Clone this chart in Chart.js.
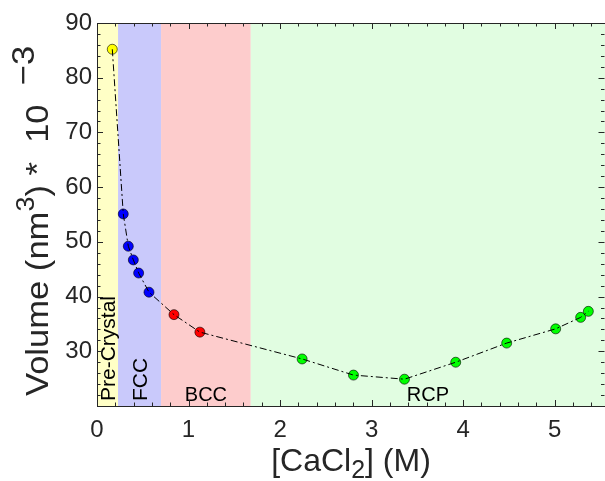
<!DOCTYPE html>
<html><head><meta charset="utf-8">
<script src="https://cdn.jsdelivr.net/npm/chart.js@4"></script>
<style>html,body{margin:0;padding:0;background:#fff;overflow:hidden}#wrap{width:605px;height:481px}</style>
</head><body><div id="wrap"><canvas id="c" width="605" height="481"></canvas></div>
<script>
// ---- data ----
const concentrations = [0.167, 0.287, 0.342, 0.397, 0.455, 0.568, 0.841, 1.124, 2.241, 2.802, 3.359, 3.919, 4.476, 5.011, 5.284, 5.368];
const volumes        = [85.2, 55.1, 49.2, 46.7, 44.3, 40.8, 36.7, 33.5, 28.6, 25.65, 24.9, 28.0, 31.5, 34.1, 36.2, 37.3];
const pointPhase     = [0, 1, 1, 1, 1, 1, 2, 2, 3, 3, 3, 3, 3, 3, 3, 3];
const phaseNames     = ['Pre-Crystal', 'FCC', 'BCC', 'RCP'];
const phaseBounds    = [0, 0.23, 0.70, 1.68, 5.55];
const xTickValues    = [0, 1, 2, 3, 4, 5];
const yTickValues    = [30, 40, 50, 60, 70, 80, 90];
const xRange = [0, 5.55];
const yRange = [20, 90];
const xMinorStep = 0.2;
const yMinorStep = 2;
const yTitleParts = [['Volume (nm', 0], ['3', 1], [') *  10 ', 0], [' \u22123', 2]];
const xTitleParts = [['[CaCl', 0], ['2', -1], ['] (M)', 0]];

// ---- styles ----
const phaseFill   = ['#ffffc6', '#c9c9fb', '#fdcccc', '#e1fde1'];
const phaseMarker = ['#ffff00', '#0000ff', '#ff0000', '#00ff00'];
const phaseVertical = [true, true, false, false];
const FONT = '"Liberation Sans", Arial, Helvetica, sans-serif';
const TXT = '#262626';
const VSTRETCH = 1.08;

const markerSets = phaseNames.map((name, p) => ({
  label: name,
  data: concentrations.map((x, i) => ({x, y: volumes[i]})).filter((_, i) => pointPhase[i] === p),
  showLine: false,
  pointRadius: 5,
  pointBackgroundColor: phaseMarker[p],
  pointBorderColor: '#000',
  pointBorderWidth: 0.6,
  order: 1
}));
const lineSet = {
  label: 'line',
  data: concentrations.map((x, i) => ({x, y: volumes[i]})),
  showLine: true,
  borderColor: '#000',
  borderWidth: 1,
  borderDash: [7, 3, 2, 3],
  pointRadius: 0,
  fill: false,
  tension: 0,
  order: 0
};

function partSize(k, size) { return k === 0 ? size : (k === 2 ? size : size * 0.78); }
function drawRich(ctx, parts, size, align) {
  let w = 0;
  parts.forEach(([t, k]) => { ctx.font = partSize(k, size) + 'px ' + FONT; w += ctx.measureText(t).width; });
  let x = align === 'start' ? 0 : -w / 2;
  ctx.textAlign = 'left';
  ctx.textBaseline = 'alphabetic';
  parts.forEach(([t, k]) => {
    ctx.font = partSize(k, size) + 'px ' + FONT;
    const dy = (k === 1 || k === 2) ? -size * 0.45 : (k === -1 ? size * 0.22 : 0);
    ctx.fillText(t, x, dy);
    x += ctx.measureText(t).width;
  });
}

const decor = {
  id: 'decor',
  beforeDatasetsDraw(chart) {
    const {ctx, chartArea: a, scales: {x, y}} = chart;
    ctx.save();
    for (let p = 0; p < phaseNames.length; p++) {
      const x0 = x.getPixelForValue(phaseBounds[p]);
      const x1 = x.getPixelForValue(phaseBounds[p + 1]);
      ctx.fillStyle = phaseFill[p];
      ctx.fillRect(x0, a.top, x1 - x0, a.bottom - a.top);
    }
    ctx.fillStyle = '#000';
    ctx.font = '20px ' + FONT;
    for (let p = 0; p < phaseNames.length; p++) {
      const x0 = x.getPixelForValue(phaseBounds[p]);
      const x1 = x.getPixelForValue(Math.min(phaseBounds[p + 1], xRange[1]));
      const cx = (x0 + x1) / 2;
      if (phaseVertical[p]) {
        ctx.save();
        ctx.translate(cx + 7.2, a.bottom - 5);
        ctx.rotate(-Math.PI / 2);
        ctx.scale(1.05, 1);
        ctx.textAlign = 'left';
        ctx.textBaseline = 'alphabetic';
        ctx.fillText(phaseNames[p], 0, 0);
        ctx.restore();
      } else {
        ctx.textAlign = 'center';
        ctx.textBaseline = 'alphabetic';
        ctx.fillText(phaseNames[p], cx, a.bottom - 5);
      }
    }
    ctx.restore();
  },
  afterDraw(chart) {
    const {ctx, chartArea: a, scales: {x, y}} = chart;
    ctx.save();
    ctx.strokeStyle = TXT;
    ctx.lineWidth = 1;
    const major = 6, minor = 3.5;
    ctx.beginPath();
    for (let v = xRange[0]; v <= xRange[1] + 1e-9; v += xMinorStep) {
      const px = Math.round(x.getPixelForValue(v)) + 0.5;
      const isMajor = Math.abs(v - Math.round(v)) < 1e-6;
      const L = isMajor ? major : minor;
      ctx.moveTo(px, a.bottom); ctx.lineTo(px, a.bottom - L);
      ctx.moveTo(px, a.top); ctx.lineTo(px, a.top + L);
    }
    for (let v = yRange[0]; v <= yRange[1] + 1e-9; v += yMinorStep) {
      const py = Math.round(y.getPixelForValue(v)) + 0.5;
      const isMajor = Math.abs(v / 10 - Math.round(v / 10)) < 1e-6;
      const L = isMajor ? major : minor;
      ctx.moveTo(a.left, py); ctx.lineTo(a.left + L, py);
      ctx.moveTo(a.right - 0.5, py); ctx.lineTo(a.right - 0.5 - L, py);
    }
    ctx.stroke();
    ctx.beginPath();
    ctx.rect(Math.round(a.left) + 0.5, Math.round(a.top) + 0.5, Math.round(a.right - a.left) + 2, Math.round(a.bottom - a.top));
    ctx.stroke();
    ctx.fillStyle = TXT;
    ctx.save();
    ctx.translate(48, 396);
    ctx.rotate(-Math.PI / 2);
    ctx.scale(VSTRETCH, 1);
    drawRich(ctx, yTitleParts, 32, 'start');
    ctx.restore();
    ctx.save();
    ctx.translate((a.left + a.right) / 2, 471);
    drawRich(ctx, xTitleParts, 32, 'center');
    ctx.restore();
    ctx.restore();
  }
};

new Chart(document.getElementById('c'), {
  type: 'scatter',
  data: {datasets: [lineSet, ...markerSets]},
  options: {
    responsive: false,
    animation: false,
    devicePixelRatio: 1,
    layout: {autoPadding: false, padding: {left: 0, right: 0, top: 23, bottom: 0}},
    plugins: {legend: {display: false}, tooltip: {enabled: false}},
    scales: {
      x: {
        type: 'linear', min: xRange[0], max: xRange[1],
        grid: {display: false, drawTicks: false},
        border: {display: false},
        ticks: {font: {family: FONT, size: 24}, color: TXT, padding: 10, maxRotation: 0, autoSkip: false},
        afterBuildTicks: s => { s.ticks = xTickValues.map(v => ({value: v})); },
        afterFit: s => { s.height = 75; s.paddingLeft = 0; s.paddingRight = 0; }
      },
      y: {
        type: 'linear', min: yRange[0], max: yRange[1],
        grid: {display: false, drawTicks: false},
        border: {display: false},
        ticks: {font: {family: FONT, size: 24}, color: TXT, padding: 5, autoSkip: false},
        afterBuildTicks: s => { s.ticks = yTickValues.map(v => ({value: v})); },
        afterFit: s => { s.width = 97; s.paddingTop = 0; s.paddingBottom = 0; }
      }
    }
  },
  plugins: [decor]
});
</script>
</body></html>
